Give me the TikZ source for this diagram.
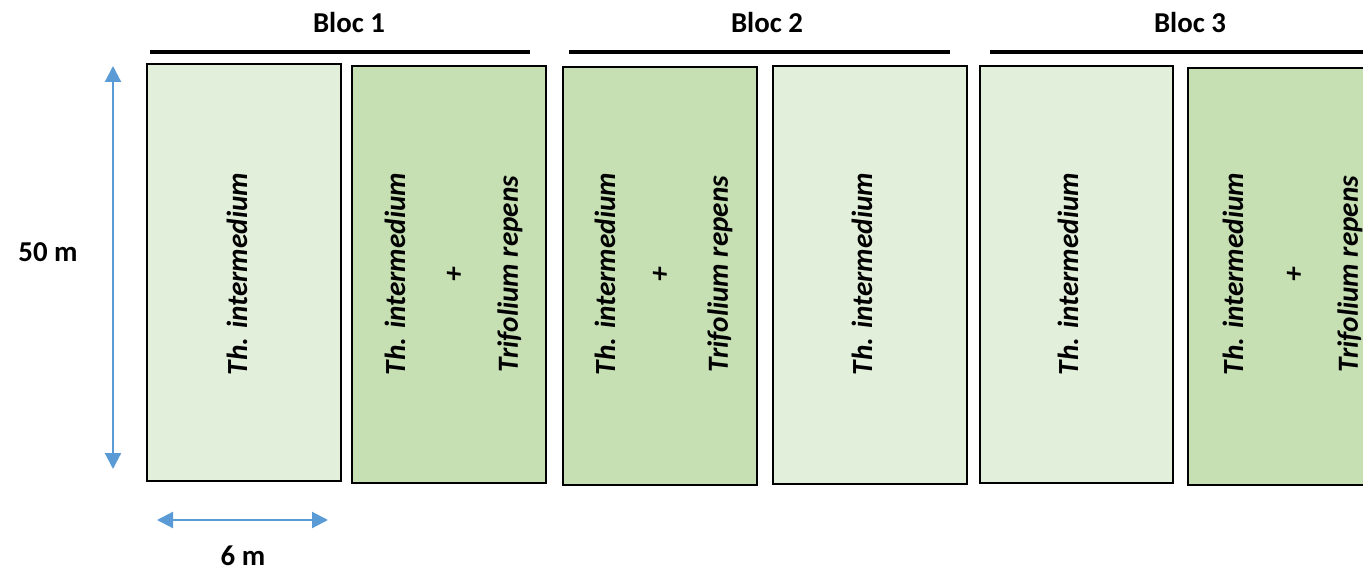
\documentclass[tikz,border=0pt]{standalone}
\usepackage{fontspec}
\setmainfont{Carlito}
\usetikzlibrary{arrows.meta}
\definecolor{plotlight}{HTML}{E2EFDA}
\definecolor{plotdark}{HTML}{C6E0B4}
\definecolor{dimblue}{HTML}{5B9BD5}
\tikzset{
  plotbox/.style={draw=black, line width=1.3pt},
  bloclabel/.style={font=\fontsize{14.4}{17}\selectfont\bfseries},
  blocline/.style={line width=2pt},
  species/.style={rotate=90, font=\fontsize{14.6}{17}\selectfont\bfseries\itshape},
  dimarrow/.style={draw=dimblue, line width=1.1pt, {Triangle[length=8pt,width=8pt]}-{Triangle[length=8pt,width=8pt]}},
  dimlabel/.style={font=\fontsize{14.4}{17}\selectfont\bfseries}
}
\begin{document}
\begin{tikzpicture}[x=0.5pt, y=-0.5pt]
  \clip (0,0) rectangle (1363,571);
  % blocs
  \node[bloclabel] (bloc1) at (349,23) {Bloc 1};
  \draw[blocline] (150,52) -- (530,52);
  \node[bloclabel] (bloc2) at (767,23) {Bloc 2};
  \draw[blocline] (569,52) -- (950,52);
  \node[bloclabel] (bloc3) at (1190,23) {Bloc 3};
  \draw[blocline] (990,52) -- (1370,52);
  % plots
  \draw[plotbox, fill=plotlight] (147,64) rectangle (341,481);
  \node[species] (th1) at (237,274) {Th. intermedium};
  \draw[plotbox, fill=plotdark] (352,66) rectangle (546,483);
  \node[species] (th2) at (395,274) {Th. intermedium};
  \node[species] (plus2) at (455,274) {+};
  \node[species] (tr2) at (510,274) {Trifolium repens};
  \draw[plotbox, fill=plotdark] (563,67) rectangle (757,485);
  \node[species] (th3) at (605,274) {Th. intermedium};
  \node[species] (plus3) at (661,274) {+};
  \node[species] (tr3) at (720,274) {Trifolium repens};
  \draw[plotbox, fill=plotlight] (773,66) rectangle (967,484);
  \node[species] (th4) at (862,274) {Th. intermedium};
  \draw[plotbox, fill=plotlight] (980,66) rectangle (1173,483);
  \node[species] (th5) at (1068,274) {Th. intermedium};
  \draw[plotbox, fill=plotdark] (1188,68) rectangle (1380,485);
  \node[species] (th6) at (1233,274) {Th. intermedium};
  \node[species] (plus6) at (1295,274) {+};
  \node[species] (tr6) at (1350,274) {Trifolium repens};
  % dimensions
  \coordinate (htop) at (113,66);
  \coordinate (hbot) at (113,469);
  \draw[dimarrow] (htop) -- (hbot);
  \node[dimlabel] (height) at (48,252) {50 m};
  \coordinate (wleft) at (157,520);
  \coordinate (wright) at (328,520);
  \draw[dimarrow] (wleft) -- (wright);
  \node[dimlabel] (width) at (243,556) {6 m};
\end{tikzpicture}
\end{document}
